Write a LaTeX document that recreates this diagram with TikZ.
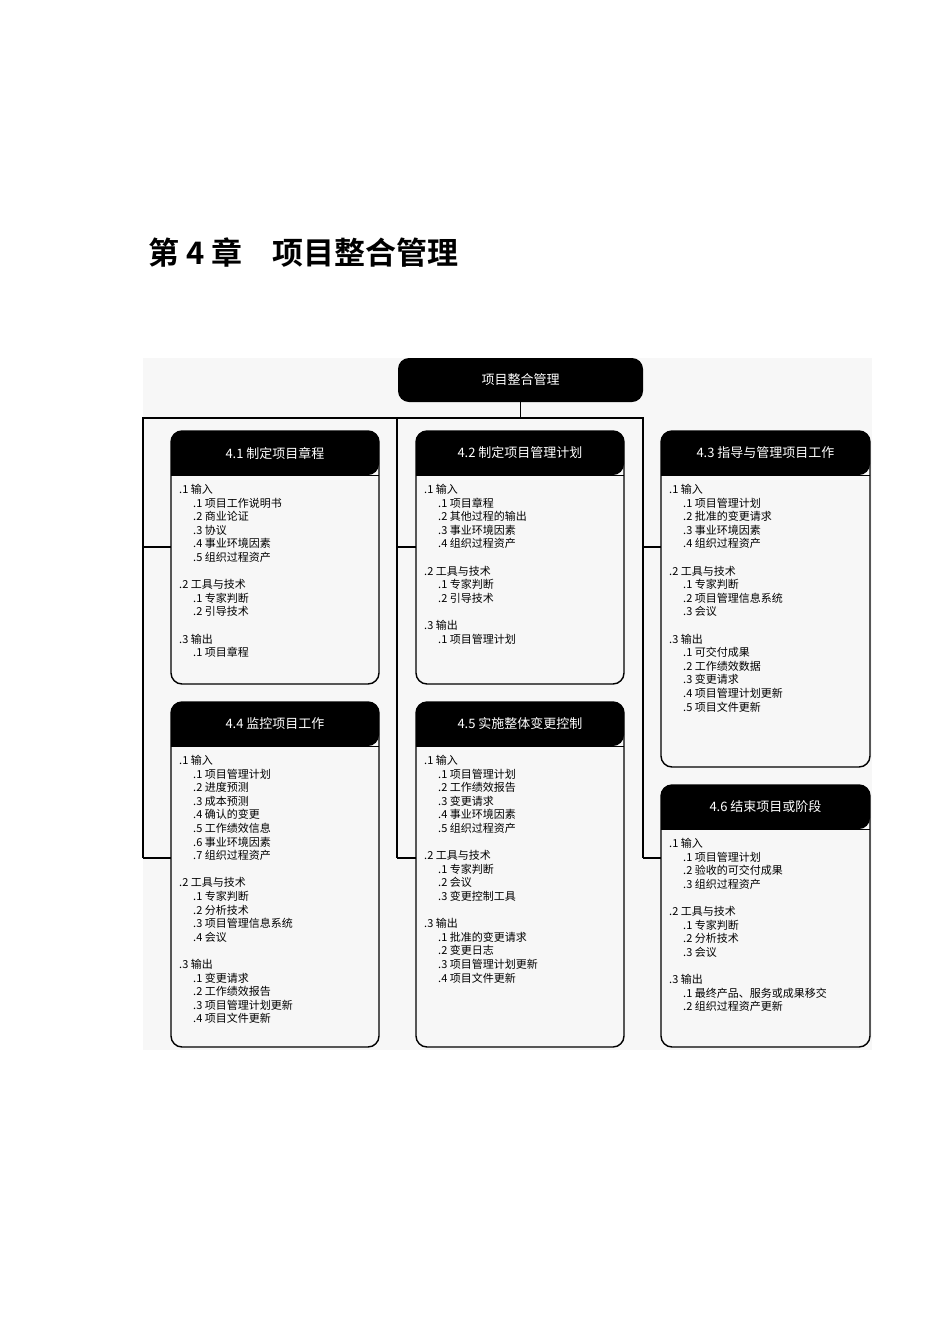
\documentclass[tikz,border=0pt]{standalone}
\usepackage{fontspec}
\setmainfont{Noto Sans CJK SC}
\newfontfamily\headfont{Noto Sans CJK SC Bold}
\newcommand\ind{\hspace*{14pt}}
\tikzset{
  boxline/.style={line width=1.4pt, rounded corners=11pt},
  hdr/.style={text=white, font=\fontsize{13}{15}\selectfont},
  body/.style={anchor=north west, inner sep=0pt, align=left, font=\fontsize{11}{13.6}\selectfont},
  tree/.style={line width=1.3pt}
}
\newcommand\procbox[7]{%
  \fill[rounded corners=11pt] (#2,#5) -- (#2,#3) -- (#4,#3) -- (#4,#5) [sharp corners]-- cycle;
  \draw[boxline] (#2,#3) rectangle (#4,#6);
  \draw[line width=1pt] (#2,#5) -- (#4,#5);
  \node[hdr] (#1h) at ({(#2+#4)/2},{(#3+#5)/2}) {#7};
  \coordinate (#1w) at (#2,{#3+116});
}
\begin{document}
\begin{tikzpicture}[x=1pt,y=-1pt]
\useasboundingbox (0,0) rectangle (950,1344);
\fill[black!3] (143,358) rectangle (872,1050);
\node[anchor=west, font=\headfont\fontsize{31}{34}\selectfont] (title) at (145,253) {第 4 章\hspace{30pt}项目整合管理};
% top node
\node[fill=black, rounded corners=11pt, minimum width=245pt, minimum height=44pt, text=white, font=\fontsize{13}{15}\selectfont] (top) at (520.5,380) {项目整合管理};
% tree
\coordinate (j) at (520.5,418);
\draw[tree] (top.south) -- (j);
\draw[tree] (143,858) -- (143,418) -- (643,418) -- (643,858);
\draw[tree] (397,418) -- (397,858);
\draw[tree] (143,547) -- (171,547);
\draw[tree] (143,858) -- (171,858);
\draw[tree] (397,547) -- (416,547);
\draw[tree] (397,858) -- (416,858);
\draw[tree] (643,547) -- (661,547);
\draw[tree] (643,858) -- (661,858);
% boxes
\procbox{a}{171}{431}{379}{475}{684}{4.1 制定项目章程}
\procbox{b}{416}{431}{624}{475}{684}{4.2 制定项目管理计划}
\procbox{c}{661}{431}{870}{475}{767}{4.3 指导与管理项目工作}
\procbox{d}{171}{702}{379}{746}{1047}{4.4 监控项目工作}
\procbox{e}{416}{702}{624}{746}{1047}{4.5 实施整体变更控制}
\procbox{f}{661}{785}{870}{829}{1047}{4.6 结束项目或阶段}
\node[body] (ab) at (179,484) {.1 输入\\ \ind.1 项目工作说明书\\ \ind.2 商业论证\\ \ind.3 协议\\ \ind.4 事业环境因素\\ \ind.5 组织过程资产\\[13.6pt]
.2 工具与技术\\ \ind.1 专家判断\\ \ind.2 引导技术\\[13.6pt]
.3 输出\\ \ind.1 项目章程};
\node[body] (bb) at (424,484) {.1 输入\\ \ind.1 项目章程\\ \ind.2 其他过程的输出\\ \ind.3 事业环境因素\\ \ind.4 组织过程资产\\[13.6pt]
.2 工具与技术\\ \ind.1 专家判断\\ \ind.2 引导技术\\[13.6pt]
.3 输出\\ \ind.1 项目管理计划};
\node[body] (cb) at (669,484) {.1 输入\\ \ind.1 项目管理计划\\ \ind.2 批准的变更请求\\ \ind.3 事业环境因素\\ \ind.4 组织过程资产\\[13.6pt]
.2 工具与技术\\ \ind.1 专家判断\\ \ind.2 项目管理信息系统\\ \ind.3 会议\\[13.6pt]
.3 输出\\ \ind.1 可交付成果\\ \ind.2 工作绩效数据\\ \ind.3 变更请求\\ \ind.4 项目管理计划更新\\ \ind.5 项目文件更新};
\node[body] (db) at (179,755) {.1 输入\\ \ind.1 项目管理计划\\ \ind.2 进度预测\\ \ind.3 成本预测\\ \ind.4 确认的变更\\ \ind.5 工作绩效信息\\ \ind.6 事业环境因素\\ \ind.7 组织过程资产\\[13.6pt]
.2 工具与技术\\ \ind.1 专家判断\\ \ind.2 分析技术\\ \ind.3 项目管理信息系统\\ \ind.4 会议\\[13.6pt]
.3 输出\\ \ind.1 变更请求\\ \ind.2 工作绩效报告\\ \ind.3 项目管理计划更新\\ \ind.4 项目文件更新};
\node[body] (eb) at (424,755) {.1 输入\\ \ind.1 项目管理计划\\ \ind.2 工作绩效报告\\ \ind.3 变更请求\\ \ind.4 事业环境因素\\ \ind.5 组织过程资产\\[13.6pt]
.2 工具与技术\\ \ind.1 专家判断\\ \ind.2 会议\\ \ind.3 变更控制工具\\[13.6pt]
.3 输出\\ \ind.1 批准的变更请求\\ \ind.2 变更日志\\ \ind.3 项目管理计划更新\\ \ind.4 项目文件更新};
\node[body] (fb) at (669,838) {.1 输入\\ \ind.1 项目管理计划\\ \ind.2 验收的可交付成果\\ \ind.3 组织过程资产\\[13.6pt]
.2 工具与技术\\ \ind.1 专家判断\\ \ind.2 分析技术\\ \ind.3 会议\\[13.6pt]
.3 输出\\ \ind.1 最终产品、服务或成果移交\\ \ind.2 组织过程资产更新};
\end{tikzpicture}
\end{document}
